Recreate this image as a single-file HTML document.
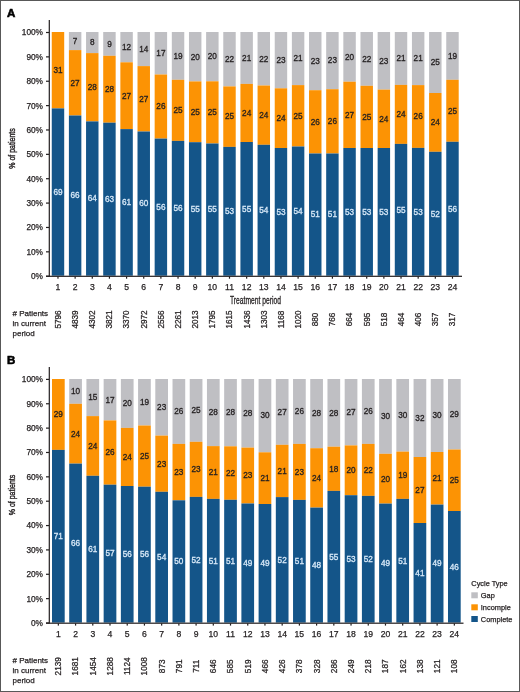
<!DOCTYPE html>
<html><head><meta charset="utf-8"><style>
html,body{margin:0;padding:0;background:#fff;}
body{width:520px;height:692px;overflow:hidden;}
svg{display:block;will-change:transform;}
text{font-family:"Liberation Sans",sans-serif;fill:#231f20;stroke:#231f20;stroke-width:0.25px;}
.bl{font-size:8.2px;text-anchor:middle;fill:#d8e9f8;stroke:#d8e9f8;stroke-width:0.3px;}
.ol,.gl{font-size:8.2px;text-anchor:middle;stroke:#231f20;stroke-width:0.3px;}
.tx{font-size:8.6px;text-anchor:middle;}
.nn{font-size:8.2px;text-anchor:middle;}
.yl{font-size:8.3px;text-anchor:end;}
.let{font-size:11.5px;font-weight:bold;stroke:#000;stroke-width:0.6px;fill:#000;}
.pl{font-size:9.1px;text-anchor:middle;stroke-width:0.4px;}
.tp{font-size:10.2px;stroke-width:0.3px;}
.pt{font-size:8px;}
.lg{font-size:7.4px;}
</style></head><body>
<svg width="520" height="692" viewBox="0 0 520 692">
<rect x="0" y="0" width="520" height="692" fill="#fff"/>
<rect x="51.75" y="32.00" width="12.45" height="76.40" fill="#fc9304"/>
<rect x="51.75" y="108.40" width="12.45" height="167.30" fill="#145589"/>
<text x="57.98" y="194.85" class="bl">69</text>
<text x="57.98" y="73.00" class="ol">31</text>
<rect x="57.38" y="276.50" width="1.2" height="2.2" fill="#231f20"/>
<text x="57.98" y="289.60" class="tx">1</text>
<text transform="translate(60.88,319.50) rotate(-90)" class="nn">5796</text>
<rect x="68.90" y="32.00" width="12.45" height="18.10" fill="#bfbfc3"/>
<rect x="68.90" y="50.10" width="12.45" height="65.40" fill="#fc9304"/>
<rect x="68.90" y="115.50" width="12.45" height="160.20" fill="#145589"/>
<text x="75.13" y="198.40" class="bl">66</text>
<text x="75.13" y="85.60" class="ol">27</text>
<text x="75.13" y="43.85" class="gl">7</text>
<rect x="74.53" y="276.50" width="1.2" height="2.2" fill="#231f20"/>
<text x="75.13" y="289.60" class="tx">2</text>
<text transform="translate(78.03,319.50) rotate(-90)" class="nn">4839</text>
<rect x="86.05" y="32.00" width="12.45" height="21.10" fill="#bfbfc3"/>
<rect x="86.05" y="53.10" width="12.45" height="68.30" fill="#fc9304"/>
<rect x="86.05" y="121.40" width="12.45" height="154.30" fill="#145589"/>
<text x="92.28" y="201.35" class="bl">64</text>
<text x="92.28" y="90.05" class="ol">28</text>
<text x="92.28" y="45.35" class="gl">8</text>
<rect x="91.68" y="276.50" width="1.2" height="2.2" fill="#231f20"/>
<text x="92.28" y="289.60" class="tx">3</text>
<text transform="translate(95.18,319.50) rotate(-90)" class="nn">4302</text>
<rect x="103.21" y="32.00" width="12.45" height="23.80" fill="#bfbfc3"/>
<rect x="103.21" y="55.80" width="12.45" height="66.90" fill="#fc9304"/>
<rect x="103.21" y="122.70" width="12.45" height="153.00" fill="#145589"/>
<text x="109.43" y="202.00" class="bl">63</text>
<text x="109.43" y="92.05" class="ol">28</text>
<text x="109.43" y="46.70" class="gl">9</text>
<rect x="108.83" y="276.50" width="1.2" height="2.2" fill="#231f20"/>
<text x="109.43" y="289.60" class="tx">4</text>
<text transform="translate(112.33,319.50) rotate(-90)" class="nn">3821</text>
<rect x="120.36" y="32.00" width="12.45" height="30.30" fill="#bfbfc3"/>
<rect x="120.36" y="62.30" width="12.45" height="66.80" fill="#fc9304"/>
<rect x="120.36" y="129.10" width="12.45" height="146.60" fill="#145589"/>
<text x="126.58" y="205.20" class="bl">61</text>
<text x="126.58" y="98.50" class="ol">27</text>
<text x="126.58" y="49.95" class="gl">12</text>
<rect x="125.98" y="276.50" width="1.2" height="2.2" fill="#231f20"/>
<text x="126.58" y="289.60" class="tx">5</text>
<text transform="translate(129.48,319.50) rotate(-90)" class="nn">3370</text>
<rect x="137.51" y="32.00" width="12.45" height="34.10" fill="#bfbfc3"/>
<rect x="137.51" y="66.10" width="12.45" height="65.40" fill="#fc9304"/>
<rect x="137.51" y="131.50" width="12.45" height="144.20" fill="#145589"/>
<text x="143.73" y="206.40" class="bl">60</text>
<text x="143.73" y="101.60" class="ol">27</text>
<text x="143.73" y="51.85" class="gl">14</text>
<rect x="143.13" y="276.50" width="1.2" height="2.2" fill="#231f20"/>
<text x="143.73" y="289.60" class="tx">6</text>
<text transform="translate(146.63,319.50) rotate(-90)" class="nn">2972</text>
<rect x="154.66" y="32.00" width="12.45" height="42.50" fill="#bfbfc3"/>
<rect x="154.66" y="74.50" width="12.45" height="64.10" fill="#fc9304"/>
<rect x="154.66" y="138.60" width="12.45" height="137.10" fill="#145589"/>
<text x="160.89" y="209.95" class="bl">56</text>
<text x="160.89" y="109.35" class="ol">26</text>
<text x="160.89" y="56.05" class="gl">17</text>
<rect x="160.29" y="276.50" width="1.2" height="2.2" fill="#231f20"/>
<text x="160.89" y="289.60" class="tx">7</text>
<text transform="translate(163.79,319.50) rotate(-90)" class="nn">2556</text>
<rect x="171.81" y="32.00" width="12.45" height="47.80" fill="#bfbfc3"/>
<rect x="171.81" y="79.80" width="12.45" height="61.10" fill="#fc9304"/>
<rect x="171.81" y="140.90" width="12.45" height="134.80" fill="#145589"/>
<text x="178.04" y="211.10" class="bl">56</text>
<text x="178.04" y="113.15" class="ol">25</text>
<text x="178.04" y="58.70" class="gl">19</text>
<rect x="177.44" y="276.50" width="1.2" height="2.2" fill="#231f20"/>
<text x="178.04" y="289.60" class="tx">8</text>
<text transform="translate(180.94,319.50) rotate(-90)" class="nn">2261</text>
<rect x="188.97" y="32.00" width="12.45" height="49.40" fill="#bfbfc3"/>
<rect x="188.97" y="81.40" width="12.45" height="60.80" fill="#fc9304"/>
<rect x="188.97" y="142.20" width="12.45" height="133.50" fill="#145589"/>
<text x="195.19" y="211.75" class="bl">55</text>
<text x="195.19" y="114.60" class="ol">25</text>
<text x="195.19" y="59.50" class="gl">20</text>
<rect x="194.59" y="276.50" width="1.2" height="2.2" fill="#231f20"/>
<text x="195.19" y="289.60" class="tx">9</text>
<text transform="translate(198.09,319.50) rotate(-90)" class="nn">2013</text>
<rect x="206.12" y="32.00" width="12.45" height="49.30" fill="#bfbfc3"/>
<rect x="206.12" y="81.30" width="12.45" height="62.20" fill="#fc9304"/>
<rect x="206.12" y="143.50" width="12.45" height="132.20" fill="#145589"/>
<text x="212.34" y="212.40" class="bl">55</text>
<text x="212.34" y="115.20" class="ol">25</text>
<text x="212.34" y="59.45" class="gl">20</text>
<rect x="211.74" y="276.50" width="1.2" height="2.2" fill="#231f20"/>
<text x="212.34" y="289.60" class="tx">10</text>
<text transform="translate(215.24,319.50) rotate(-90)" class="nn">1795</text>
<rect x="223.27" y="32.00" width="12.45" height="54.40" fill="#bfbfc3"/>
<rect x="223.27" y="86.40" width="12.45" height="60.50" fill="#fc9304"/>
<rect x="223.27" y="146.90" width="12.45" height="128.80" fill="#145589"/>
<text x="229.50" y="214.10" class="bl">53</text>
<text x="229.50" y="119.45" class="ol">25</text>
<text x="229.50" y="62.00" class="gl">22</text>
<rect x="228.90" y="276.50" width="1.2" height="2.2" fill="#231f20"/>
<text x="229.50" y="289.60" class="tx">11</text>
<text transform="translate(232.40,319.50) rotate(-90)" class="nn">1615</text>
<rect x="240.42" y="32.00" width="12.45" height="51.90" fill="#bfbfc3"/>
<rect x="240.42" y="83.90" width="12.45" height="58.10" fill="#fc9304"/>
<rect x="240.42" y="142.00" width="12.45" height="133.70" fill="#145589"/>
<text x="246.65" y="211.65" class="bl">55</text>
<text x="246.65" y="115.75" class="ol">24</text>
<text x="246.65" y="60.75" class="gl">21</text>
<rect x="246.05" y="276.50" width="1.2" height="2.2" fill="#231f20"/>
<text x="246.65" y="289.60" class="tx">12</text>
<text transform="translate(249.55,319.50) rotate(-90)" class="nn">1436</text>
<rect x="257.57" y="32.00" width="12.45" height="53.50" fill="#bfbfc3"/>
<rect x="257.57" y="85.50" width="12.45" height="59.30" fill="#fc9304"/>
<rect x="257.57" y="144.80" width="12.45" height="130.90" fill="#145589"/>
<text x="263.80" y="213.05" class="bl">54</text>
<text x="263.80" y="117.95" class="ol">24</text>
<text x="263.80" y="61.55" class="gl">22</text>
<rect x="263.20" y="276.50" width="1.2" height="2.2" fill="#231f20"/>
<text x="263.80" y="289.60" class="tx">13</text>
<text transform="translate(266.70,319.50) rotate(-90)" class="nn">1303</text>
<rect x="274.73" y="32.00" width="12.45" height="56.30" fill="#bfbfc3"/>
<rect x="274.73" y="88.30" width="12.45" height="59.70" fill="#fc9304"/>
<rect x="274.73" y="148.00" width="12.45" height="127.70" fill="#145589"/>
<text x="280.95" y="214.65" class="bl">53</text>
<text x="280.95" y="120.95" class="ol">24</text>
<text x="280.95" y="62.95" class="gl">23</text>
<rect x="280.35" y="276.50" width="1.2" height="2.2" fill="#231f20"/>
<text x="280.95" y="289.60" class="tx">14</text>
<text transform="translate(283.85,319.50) rotate(-90)" class="nn">1168</text>
<rect x="291.88" y="32.00" width="12.45" height="53.10" fill="#bfbfc3"/>
<rect x="291.88" y="85.10" width="12.45" height="61.40" fill="#fc9304"/>
<rect x="291.88" y="146.50" width="12.45" height="129.20" fill="#145589"/>
<text x="298.10" y="213.90" class="bl">54</text>
<text x="298.10" y="118.60" class="ol">25</text>
<text x="298.10" y="61.35" class="gl">21</text>
<rect x="297.50" y="276.50" width="1.2" height="2.2" fill="#231f20"/>
<text x="298.10" y="289.60" class="tx">15</text>
<text transform="translate(301.00,319.50) rotate(-90)" class="nn">1020</text>
<rect x="309.03" y="32.00" width="12.45" height="58.20" fill="#bfbfc3"/>
<rect x="309.03" y="90.20" width="12.45" height="63.30" fill="#fc9304"/>
<rect x="309.03" y="153.50" width="12.45" height="122.20" fill="#145589"/>
<text x="315.26" y="217.40" class="bl">51</text>
<text x="315.26" y="124.65" class="ol">26</text>
<text x="315.26" y="63.90" class="gl">23</text>
<rect x="314.66" y="276.50" width="1.2" height="2.2" fill="#231f20"/>
<text x="315.26" y="289.60" class="tx">16</text>
<text transform="translate(318.16,319.50) rotate(-90)" class="nn">880</text>
<rect x="326.18" y="32.00" width="12.45" height="57.20" fill="#bfbfc3"/>
<rect x="326.18" y="89.20" width="12.45" height="64.30" fill="#fc9304"/>
<rect x="326.18" y="153.50" width="12.45" height="122.20" fill="#145589"/>
<text x="332.41" y="217.40" class="bl">51</text>
<text x="332.41" y="124.15" class="ol">26</text>
<text x="332.41" y="63.40" class="gl">23</text>
<rect x="331.81" y="276.50" width="1.2" height="2.2" fill="#231f20"/>
<text x="332.41" y="289.60" class="tx">17</text>
<text transform="translate(335.31,319.50) rotate(-90)" class="nn">766</text>
<rect x="343.33" y="32.00" width="12.45" height="49.70" fill="#bfbfc3"/>
<rect x="343.33" y="81.70" width="12.45" height="66.30" fill="#fc9304"/>
<rect x="343.33" y="148.00" width="12.45" height="127.70" fill="#145589"/>
<text x="349.56" y="214.65" class="bl">53</text>
<text x="349.56" y="117.65" class="ol">27</text>
<text x="349.56" y="59.65" class="gl">20</text>
<rect x="348.96" y="276.50" width="1.2" height="2.2" fill="#231f20"/>
<text x="349.56" y="289.60" class="tx">18</text>
<text transform="translate(352.46,319.50) rotate(-90)" class="nn">664</text>
<rect x="360.49" y="32.00" width="12.45" height="53.80" fill="#bfbfc3"/>
<rect x="360.49" y="85.80" width="12.45" height="62.20" fill="#fc9304"/>
<rect x="360.49" y="148.00" width="12.45" height="127.70" fill="#145589"/>
<text x="366.71" y="214.65" class="bl">53</text>
<text x="366.71" y="119.70" class="ol">25</text>
<text x="366.71" y="61.70" class="gl">22</text>
<rect x="366.11" y="276.50" width="1.2" height="2.2" fill="#231f20"/>
<text x="366.71" y="289.60" class="tx">19</text>
<text transform="translate(369.61,319.50) rotate(-90)" class="nn">595</text>
<rect x="377.64" y="32.00" width="12.45" height="57.60" fill="#bfbfc3"/>
<rect x="377.64" y="89.60" width="12.45" height="58.40" fill="#fc9304"/>
<rect x="377.64" y="148.00" width="12.45" height="127.70" fill="#145589"/>
<text x="383.86" y="214.65" class="bl">53</text>
<text x="383.86" y="121.60" class="ol">24</text>
<text x="383.86" y="63.60" class="gl">23</text>
<rect x="383.26" y="276.50" width="1.2" height="2.2" fill="#231f20"/>
<text x="383.86" y="289.60" class="tx">20</text>
<text transform="translate(386.76,319.50) rotate(-90)" class="nn">518</text>
<rect x="394.79" y="32.00" width="12.45" height="52.90" fill="#bfbfc3"/>
<rect x="394.79" y="84.90" width="12.45" height="59.00" fill="#fc9304"/>
<rect x="394.79" y="143.90" width="12.45" height="131.80" fill="#145589"/>
<text x="401.02" y="212.60" class="bl">55</text>
<text x="401.02" y="117.20" class="ol">24</text>
<text x="401.02" y="61.25" class="gl">21</text>
<rect x="400.42" y="276.50" width="1.2" height="2.2" fill="#231f20"/>
<text x="401.02" y="289.60" class="tx">21</text>
<text transform="translate(403.92,319.50) rotate(-90)" class="nn">464</text>
<rect x="411.94" y="32.00" width="12.45" height="53.10" fill="#bfbfc3"/>
<rect x="411.94" y="85.10" width="12.45" height="62.80" fill="#fc9304"/>
<rect x="411.94" y="147.90" width="12.45" height="127.80" fill="#145589"/>
<text x="418.17" y="214.60" class="bl">53</text>
<text x="418.17" y="119.30" class="ol">26</text>
<text x="418.17" y="61.35" class="gl">21</text>
<rect x="417.57" y="276.50" width="1.2" height="2.2" fill="#231f20"/>
<text x="418.17" y="289.60" class="tx">22</text>
<text transform="translate(421.07,319.50) rotate(-90)" class="nn">406</text>
<rect x="429.09" y="32.00" width="12.45" height="61.00" fill="#bfbfc3"/>
<rect x="429.09" y="93.00" width="12.45" height="58.80" fill="#fc9304"/>
<rect x="429.09" y="151.80" width="12.45" height="123.90" fill="#145589"/>
<text x="435.32" y="216.55" class="bl">52</text>
<text x="435.32" y="125.20" class="ol">24</text>
<text x="435.32" y="65.30" class="gl">25</text>
<rect x="434.72" y="276.50" width="1.2" height="2.2" fill="#231f20"/>
<text x="435.32" y="289.60" class="tx">23</text>
<text transform="translate(438.22,319.50) rotate(-90)" class="nn">357</text>
<rect x="446.25" y="32.00" width="12.45" height="47.80" fill="#bfbfc3"/>
<rect x="446.25" y="79.80" width="12.45" height="62.00" fill="#fc9304"/>
<rect x="446.25" y="141.80" width="12.45" height="133.90" fill="#145589"/>
<text x="452.47" y="211.55" class="bl">56</text>
<text x="452.47" y="113.60" class="ol">25</text>
<text x="452.47" y="58.70" class="gl">19</text>
<rect x="451.87" y="276.50" width="1.2" height="2.2" fill="#231f20"/>
<text x="452.47" y="289.60" class="tx">24</text>
<text transform="translate(455.37,319.50) rotate(-90)" class="nn">317</text>
<rect x="48.7" y="20.00" width="1.2" height="256.70" fill="#231f20"/>
<rect x="46" y="275.70" width="416.00" height="1.2" fill="#231f20"/>
<rect x="46" y="275.60" width="3" height="1.2" fill="#231f20"/>
<text x="43" y="279.10" class="yl">0%</text>
<rect x="46" y="251.23" width="3" height="1.2" fill="#231f20"/>
<text x="43" y="254.73" class="yl">10%</text>
<rect x="46" y="226.86" width="3" height="1.2" fill="#231f20"/>
<text x="43" y="230.36" class="yl">20%</text>
<rect x="46" y="202.49" width="3" height="1.2" fill="#231f20"/>
<text x="43" y="205.99" class="yl">30%</text>
<rect x="46" y="178.12" width="3" height="1.2" fill="#231f20"/>
<text x="43" y="181.62" class="yl">40%</text>
<rect x="46" y="153.75" width="3" height="1.2" fill="#231f20"/>
<text x="43" y="157.25" class="yl">50%</text>
<rect x="46" y="129.38" width="3" height="1.2" fill="#231f20"/>
<text x="43" y="132.88" class="yl">60%</text>
<rect x="46" y="105.01" width="3" height="1.2" fill="#231f20"/>
<text x="43" y="108.51" class="yl">70%</text>
<rect x="46" y="80.64" width="3" height="1.2" fill="#231f20"/>
<text x="43" y="84.14" class="yl">80%</text>
<rect x="46" y="56.27" width="3" height="1.2" fill="#231f20"/>
<text x="43" y="59.77" class="yl">90%</text>
<rect x="46" y="31.90" width="3" height="1.2" fill="#231f20"/>
<text x="43" y="35.40" class="yl">100%</text>
<text x="7.1" y="17.00" class="let">A</text>
<text transform="translate(14.7,148.50) rotate(-90)" class="pl" textLength="40.5" lengthAdjust="spacingAndGlyphs">% of patients</text>
<text x="230" y="303.7" class="tp" textLength="51" lengthAdjust="spacingAndGlyphs">Treatment period</text>
<text x="12.5" y="316.00" class="pt">#&#160;Patients</text>
<text x="12.5" y="325.90" class="pt">in current</text>
<text x="12.5" y="335.80" class="pt">period</text>
<rect x="52.00" y="379.00" width="12.7" height="70.90" fill="#fc9304"/>
<rect x="52.00" y="449.90" width="12.7" height="172.70" fill="#145589"/>
<text x="58.35" y="539.05" class="bl">71</text>
<text x="58.35" y="417.25" class="ol">29</text>
<rect x="57.75" y="623.40" width="1.2" height="2.2" fill="#231f20"/>
<text x="58.35" y="636.80" class="tx">1</text>
<text transform="translate(61.25,666.30) rotate(-90)" class="nn">2139</text>
<rect x="69.22" y="379.00" width="12.7" height="24.80" fill="#bfbfc3"/>
<rect x="69.22" y="403.80" width="12.7" height="59.80" fill="#fc9304"/>
<rect x="69.22" y="463.60" width="12.7" height="159.00" fill="#145589"/>
<text x="75.57" y="545.90" class="bl">66</text>
<text x="75.57" y="436.50" class="ol">24</text>
<text x="75.57" y="394.20" class="gl">10</text>
<rect x="74.97" y="623.40" width="1.2" height="2.2" fill="#231f20"/>
<text x="75.57" y="636.80" class="tx">2</text>
<text transform="translate(78.47,666.30) rotate(-90)" class="nn">1681</text>
<rect x="86.43" y="379.00" width="12.7" height="37.10" fill="#bfbfc3"/>
<rect x="86.43" y="416.10" width="12.7" height="59.70" fill="#fc9304"/>
<rect x="86.43" y="475.80" width="12.7" height="146.80" fill="#145589"/>
<text x="92.78" y="552.00" class="bl">61</text>
<text x="92.78" y="448.75" class="ol">24</text>
<text x="92.78" y="400.35" class="gl">15</text>
<rect x="92.18" y="623.40" width="1.2" height="2.2" fill="#231f20"/>
<text x="92.78" y="636.80" class="tx">3</text>
<text transform="translate(95.68,666.30) rotate(-90)" class="nn">1454</text>
<rect x="103.65" y="379.00" width="12.7" height="41.40" fill="#bfbfc3"/>
<rect x="103.65" y="420.40" width="12.7" height="64.30" fill="#fc9304"/>
<rect x="103.65" y="484.70" width="12.7" height="137.90" fill="#145589"/>
<text x="110.00" y="556.45" class="bl">57</text>
<text x="110.00" y="455.35" class="ol">26</text>
<text x="110.00" y="402.50" class="gl">17</text>
<rect x="109.40" y="623.40" width="1.2" height="2.2" fill="#231f20"/>
<text x="110.00" y="636.80" class="tx">4</text>
<text transform="translate(112.90,666.30) rotate(-90)" class="nn">1288</text>
<rect x="120.87" y="379.00" width="12.7" height="48.90" fill="#bfbfc3"/>
<rect x="120.87" y="427.90" width="12.7" height="58.10" fill="#fc9304"/>
<rect x="120.87" y="486.00" width="12.7" height="136.60" fill="#145589"/>
<text x="127.22" y="557.10" class="bl">56</text>
<text x="127.22" y="459.75" class="ol">24</text>
<text x="127.22" y="406.25" class="gl">20</text>
<rect x="126.62" y="623.40" width="1.2" height="2.2" fill="#231f20"/>
<text x="127.22" y="636.80" class="tx">5</text>
<text transform="translate(130.12,666.30) rotate(-90)" class="nn">1124</text>
<rect x="138.08" y="379.00" width="12.7" height="46.50" fill="#bfbfc3"/>
<rect x="138.08" y="425.50" width="12.7" height="61.20" fill="#fc9304"/>
<rect x="138.08" y="486.70" width="12.7" height="135.90" fill="#145589"/>
<text x="144.43" y="557.45" class="bl">56</text>
<text x="144.43" y="458.90" class="ol">25</text>
<text x="144.43" y="405.05" class="gl">19</text>
<rect x="143.83" y="623.40" width="1.2" height="2.2" fill="#231f20"/>
<text x="144.43" y="636.80" class="tx">6</text>
<text transform="translate(147.33,666.30) rotate(-90)" class="nn">1008</text>
<rect x="155.30" y="379.00" width="12.7" height="56.60" fill="#bfbfc3"/>
<rect x="155.30" y="435.60" width="12.7" height="56.20" fill="#fc9304"/>
<rect x="155.30" y="491.80" width="12.7" height="130.80" fill="#145589"/>
<text x="161.65" y="560.00" class="bl">54</text>
<text x="161.65" y="466.50" class="ol">23</text>
<text x="161.65" y="410.10" class="gl">23</text>
<rect x="161.05" y="623.40" width="1.2" height="2.2" fill="#231f20"/>
<text x="161.65" y="636.80" class="tx">7</text>
<text transform="translate(164.55,666.30) rotate(-90)" class="nn">873</text>
<rect x="172.52" y="379.00" width="12.7" height="64.90" fill="#bfbfc3"/>
<rect x="172.52" y="443.90" width="12.7" height="56.40" fill="#fc9304"/>
<rect x="172.52" y="500.30" width="12.7" height="122.30" fill="#145589"/>
<text x="178.87" y="564.25" class="bl">50</text>
<text x="178.87" y="474.90" class="ol">23</text>
<text x="178.87" y="414.25" class="gl">26</text>
<rect x="178.27" y="623.40" width="1.2" height="2.2" fill="#231f20"/>
<text x="178.87" y="636.80" class="tx">8</text>
<text transform="translate(181.77,666.30) rotate(-90)" class="nn">791</text>
<rect x="189.74" y="379.00" width="12.7" height="62.80" fill="#bfbfc3"/>
<rect x="189.74" y="441.80" width="12.7" height="55.10" fill="#fc9304"/>
<rect x="189.74" y="496.90" width="12.7" height="125.70" fill="#145589"/>
<text x="196.09" y="562.55" class="bl">52</text>
<text x="196.09" y="472.15" class="ol">23</text>
<text x="196.09" y="413.20" class="gl">25</text>
<rect x="195.49" y="623.40" width="1.2" height="2.2" fill="#231f20"/>
<text x="196.09" y="636.80" class="tx">9</text>
<text transform="translate(198.99,666.30) rotate(-90)" class="nn">711</text>
<rect x="206.95" y="379.00" width="12.7" height="67.10" fill="#bfbfc3"/>
<rect x="206.95" y="446.10" width="12.7" height="52.80" fill="#fc9304"/>
<rect x="206.95" y="498.90" width="12.7" height="123.70" fill="#145589"/>
<text x="213.30" y="563.55" class="bl">51</text>
<text x="213.30" y="475.30" class="ol">21</text>
<text x="213.30" y="415.35" class="gl">28</text>
<rect x="212.70" y="623.40" width="1.2" height="2.2" fill="#231f20"/>
<text x="213.30" y="636.80" class="tx">10</text>
<text transform="translate(216.20,666.30) rotate(-90)" class="nn">646</text>
<rect x="224.17" y="379.00" width="12.7" height="67.30" fill="#bfbfc3"/>
<rect x="224.17" y="446.30" width="12.7" height="53.50" fill="#fc9304"/>
<rect x="224.17" y="499.80" width="12.7" height="122.80" fill="#145589"/>
<text x="230.52" y="564.00" class="bl">51</text>
<text x="230.52" y="475.85" class="ol">22</text>
<text x="230.52" y="415.45" class="gl">28</text>
<rect x="229.92" y="623.40" width="1.2" height="2.2" fill="#231f20"/>
<text x="230.52" y="636.80" class="tx">11</text>
<text transform="translate(233.42,666.30) rotate(-90)" class="nn">585</text>
<rect x="241.39" y="379.00" width="12.7" height="68.60" fill="#bfbfc3"/>
<rect x="241.39" y="447.60" width="12.7" height="55.90" fill="#fc9304"/>
<rect x="241.39" y="503.50" width="12.7" height="119.10" fill="#145589"/>
<text x="247.74" y="565.85" class="bl">49</text>
<text x="247.74" y="478.35" class="ol">23</text>
<text x="247.74" y="416.10" class="gl">28</text>
<rect x="247.14" y="623.40" width="1.2" height="2.2" fill="#231f20"/>
<text x="247.74" y="636.80" class="tx">12</text>
<text transform="translate(250.64,666.30) rotate(-90)" class="nn">519</text>
<rect x="258.60" y="379.00" width="12.7" height="73.30" fill="#bfbfc3"/>
<rect x="258.60" y="452.30" width="12.7" height="51.70" fill="#fc9304"/>
<rect x="258.60" y="504.00" width="12.7" height="118.60" fill="#145589"/>
<text x="264.95" y="566.10" class="bl">49</text>
<text x="264.95" y="480.95" class="ol">21</text>
<text x="264.95" y="418.45" class="gl">30</text>
<rect x="264.35" y="623.40" width="1.2" height="2.2" fill="#231f20"/>
<text x="264.95" y="636.80" class="tx">13</text>
<text transform="translate(267.85,666.30) rotate(-90)" class="nn">466</text>
<rect x="275.82" y="379.00" width="12.7" height="65.80" fill="#bfbfc3"/>
<rect x="275.82" y="444.80" width="12.7" height="52.30" fill="#fc9304"/>
<rect x="275.82" y="497.10" width="12.7" height="125.50" fill="#145589"/>
<text x="282.17" y="562.65" class="bl">52</text>
<text x="282.17" y="473.75" class="ol">21</text>
<text x="282.17" y="414.70" class="gl">27</text>
<rect x="281.57" y="623.40" width="1.2" height="2.2" fill="#231f20"/>
<text x="282.17" y="636.80" class="tx">14</text>
<text transform="translate(285.07,666.30) rotate(-90)" class="nn">426</text>
<rect x="293.04" y="379.00" width="12.7" height="64.90" fill="#bfbfc3"/>
<rect x="293.04" y="443.90" width="12.7" height="56.00" fill="#fc9304"/>
<rect x="293.04" y="499.90" width="12.7" height="122.70" fill="#145589"/>
<text x="299.39" y="564.05" class="bl">51</text>
<text x="299.39" y="474.70" class="ol">23</text>
<text x="299.39" y="414.25" class="gl">26</text>
<rect x="298.79" y="623.40" width="1.2" height="2.2" fill="#231f20"/>
<text x="299.39" y="636.80" class="tx">15</text>
<text transform="translate(302.29,666.30) rotate(-90)" class="nn">378</text>
<rect x="310.25" y="379.00" width="12.7" height="69.20" fill="#bfbfc3"/>
<rect x="310.25" y="448.20" width="12.7" height="59.40" fill="#fc9304"/>
<rect x="310.25" y="507.60" width="12.7" height="115.00" fill="#145589"/>
<text x="316.61" y="567.90" class="bl">48</text>
<text x="316.61" y="480.70" class="ol">24</text>
<text x="316.61" y="416.40" class="gl">28</text>
<rect x="316.00" y="623.40" width="1.2" height="2.2" fill="#231f20"/>
<text x="316.61" y="636.80" class="tx">16</text>
<text transform="translate(319.50,666.30) rotate(-90)" class="nn">328</text>
<rect x="327.47" y="379.00" width="12.7" height="67.70" fill="#bfbfc3"/>
<rect x="327.47" y="446.70" width="12.7" height="44.20" fill="#fc9304"/>
<rect x="327.47" y="490.90" width="12.7" height="131.70" fill="#145589"/>
<text x="333.82" y="559.55" class="bl">55</text>
<text x="333.82" y="471.60" class="ol">18</text>
<text x="333.82" y="415.65" class="gl">28</text>
<rect x="333.22" y="623.40" width="1.2" height="2.2" fill="#231f20"/>
<text x="333.82" y="636.80" class="tx">17</text>
<text transform="translate(336.72,666.30) rotate(-90)" class="nn">286</text>
<rect x="344.69" y="379.00" width="12.7" height="66.40" fill="#bfbfc3"/>
<rect x="344.69" y="445.40" width="12.7" height="49.80" fill="#fc9304"/>
<rect x="344.69" y="495.20" width="12.7" height="127.40" fill="#145589"/>
<text x="351.04" y="561.70" class="bl">53</text>
<text x="351.04" y="473.10" class="ol">20</text>
<text x="351.04" y="415.00" class="gl">27</text>
<rect x="350.44" y="623.40" width="1.2" height="2.2" fill="#231f20"/>
<text x="351.04" y="636.80" class="tx">18</text>
<text transform="translate(353.94,666.30) rotate(-90)" class="nn">249</text>
<rect x="361.91" y="379.00" width="12.7" height="64.90" fill="#bfbfc3"/>
<rect x="361.91" y="443.90" width="12.7" height="52.00" fill="#fc9304"/>
<rect x="361.91" y="495.90" width="12.7" height="126.70" fill="#145589"/>
<text x="368.26" y="562.05" class="bl">52</text>
<text x="368.26" y="472.70" class="ol">22</text>
<text x="368.26" y="414.25" class="gl">26</text>
<rect x="367.66" y="623.40" width="1.2" height="2.2" fill="#231f20"/>
<text x="368.26" y="636.80" class="tx">19</text>
<text transform="translate(371.16,666.30) rotate(-90)" class="nn">218</text>
<rect x="379.12" y="379.00" width="12.7" height="74.80" fill="#bfbfc3"/>
<rect x="379.12" y="453.80" width="12.7" height="49.80" fill="#fc9304"/>
<rect x="379.12" y="503.60" width="12.7" height="119.00" fill="#145589"/>
<text x="385.47" y="565.90" class="bl">49</text>
<text x="385.47" y="481.50" class="ol">20</text>
<text x="385.47" y="419.20" class="gl">30</text>
<rect x="384.87" y="623.40" width="1.2" height="2.2" fill="#231f20"/>
<text x="385.47" y="636.80" class="tx">20</text>
<text transform="translate(388.37,666.30) rotate(-90)" class="nn">187</text>
<rect x="396.34" y="379.00" width="12.7" height="72.60" fill="#bfbfc3"/>
<rect x="396.34" y="451.60" width="12.7" height="47.30" fill="#fc9304"/>
<rect x="396.34" y="498.90" width="12.7" height="123.70" fill="#145589"/>
<text x="402.69" y="563.55" class="bl">51</text>
<text x="402.69" y="478.05" class="ol">19</text>
<text x="402.69" y="418.10" class="gl">30</text>
<rect x="402.09" y="623.40" width="1.2" height="2.2" fill="#231f20"/>
<text x="402.69" y="636.80" class="tx">21</text>
<text transform="translate(405.59,666.30) rotate(-90)" class="nn">162</text>
<rect x="413.56" y="379.00" width="12.7" height="78.00" fill="#bfbfc3"/>
<rect x="413.56" y="457.00" width="12.7" height="66.00" fill="#fc9304"/>
<rect x="413.56" y="523.00" width="12.7" height="99.60" fill="#145589"/>
<text x="419.91" y="575.60" class="bl">41</text>
<text x="419.91" y="492.80" class="ol">27</text>
<text x="419.91" y="420.80" class="gl">32</text>
<rect x="419.31" y="623.40" width="1.2" height="2.2" fill="#231f20"/>
<text x="419.91" y="636.80" class="tx">22</text>
<text transform="translate(422.81,666.30) rotate(-90)" class="nn">138</text>
<rect x="430.77" y="379.00" width="12.7" height="73.00" fill="#bfbfc3"/>
<rect x="430.77" y="452.00" width="12.7" height="52.60" fill="#fc9304"/>
<rect x="430.77" y="504.60" width="12.7" height="118.00" fill="#145589"/>
<text x="437.12" y="566.40" class="bl">49</text>
<text x="437.12" y="481.10" class="ol">21</text>
<text x="437.12" y="418.30" class="gl">30</text>
<rect x="436.52" y="623.40" width="1.2" height="2.2" fill="#231f20"/>
<text x="437.12" y="636.80" class="tx">23</text>
<text transform="translate(440.02,666.30) rotate(-90)" class="nn">121</text>
<rect x="447.99" y="379.00" width="12.7" height="70.50" fill="#bfbfc3"/>
<rect x="447.99" y="449.50" width="12.7" height="61.50" fill="#fc9304"/>
<rect x="447.99" y="511.00" width="12.7" height="111.60" fill="#145589"/>
<text x="454.34" y="569.60" class="bl">46</text>
<text x="454.34" y="483.05" class="ol">25</text>
<text x="454.34" y="417.05" class="gl">29</text>
<rect x="453.74" y="623.40" width="1.2" height="2.2" fill="#231f20"/>
<text x="454.34" y="636.80" class="tx">24</text>
<text transform="translate(457.24,666.30) rotate(-90)" class="nn">108</text>
<rect x="48.7" y="367.00" width="1.2" height="256.60" fill="#231f20"/>
<rect x="46" y="622.60" width="417.50" height="1.2" fill="#231f20"/>
<rect x="46" y="622.40" width="3" height="1.2" fill="#231f20"/>
<text x="43" y="625.90" class="yl">0%</text>
<rect x="46" y="598.04" width="3" height="1.2" fill="#231f20"/>
<text x="43" y="601.54" class="yl">10%</text>
<rect x="46" y="573.68" width="3" height="1.2" fill="#231f20"/>
<text x="43" y="577.18" class="yl">20%</text>
<rect x="46" y="549.32" width="3" height="1.2" fill="#231f20"/>
<text x="43" y="552.82" class="yl">30%</text>
<rect x="46" y="524.96" width="3" height="1.2" fill="#231f20"/>
<text x="43" y="528.46" class="yl">40%</text>
<rect x="46" y="500.60" width="3" height="1.2" fill="#231f20"/>
<text x="43" y="504.10" class="yl">50%</text>
<rect x="46" y="476.24" width="3" height="1.2" fill="#231f20"/>
<text x="43" y="479.74" class="yl">60%</text>
<rect x="46" y="451.88" width="3" height="1.2" fill="#231f20"/>
<text x="43" y="455.38" class="yl">70%</text>
<rect x="46" y="427.52" width="3" height="1.2" fill="#231f20"/>
<text x="43" y="431.02" class="yl">80%</text>
<rect x="46" y="403.16" width="3" height="1.2" fill="#231f20"/>
<text x="43" y="406.66" class="yl">90%</text>
<rect x="46" y="378.80" width="3" height="1.2" fill="#231f20"/>
<text x="43" y="382.30" class="yl">100%</text>
<text x="7.1" y="364.00" class="let">B</text>
<text transform="translate(14.7,495.00) rotate(-90)" class="pl" textLength="40.5" lengthAdjust="spacingAndGlyphs">% of patients</text>
<text x="12.5" y="662.80" class="pt">#&#160;Patients</text>
<text x="12.5" y="672.70" class="pt">in current</text>
<text x="12.5" y="682.60" class="pt">period</text>

<text x="471.3" y="586.2" class="lg">Cycle Type</text>
<rect x="471.3" y="592.3" width="6.5" height="6" fill="#bfbfc3"/>
<text x="480.8" y="598" class="lg">Gap</text>
<rect x="471.3" y="604.3" width="6.5" height="6" fill="#fc9304"/>
<text x="480.8" y="610" class="lg">Incomple</text>
<rect x="471.3" y="616" width="6.5" height="6" fill="#145589"/>
<text x="480.8" y="621.7" class="lg">Complete</text>

<rect x="0.5" y="0.5" width="519" height="691" fill="none" stroke="#585858" stroke-width="1"/>
</svg>
</body></html>
